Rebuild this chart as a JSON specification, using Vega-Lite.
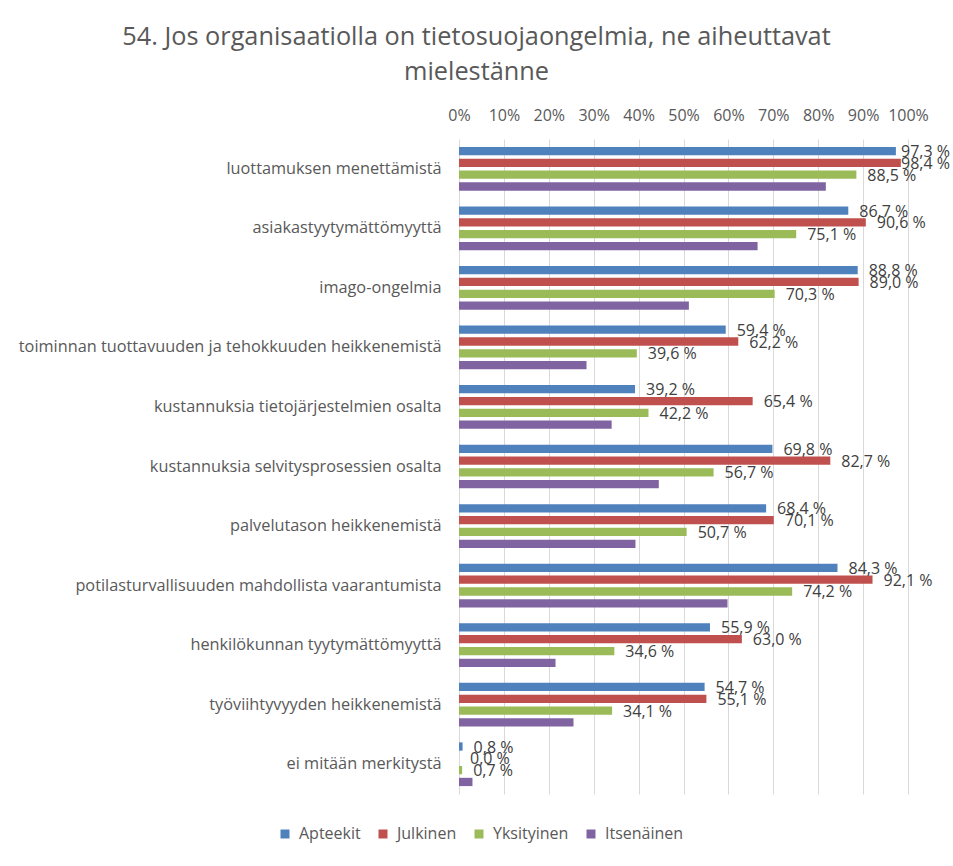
{
  "$schema": "https://vega.github.io/schema/vega-lite/v6.json",
  "width": 449,
  "height": 655,
  "autosize": {"type": "none"},
  "padding": {"left": 459, "top": 139, "right": 45, "bottom": 72},
  "background": "white",
  "title": {
    "text": ["54. Jos organisaatiolla on tietosuojaongelmia, ne aiheuttavat", "mielestänne"],
    "anchor": "middle",
    "frame": "group",
    "dx": -207,
    "offset": 22,
    "fontSize": 25.3,
    "font": "Open Sans",
    "fontWeight": "normal",
    "color": "#595959",
    "lineHeight": 35
  },
  "config": {"view": {"stroke": null}},
  "data": {
    "values": [
      {"k": "luottamuksen menettämistä", "s": "Apteekit", "v": 97.3},
      {"k": "luottamuksen menettämistä", "s": "Julkinen", "v": 98.4},
      {"k": "luottamuksen menettämistä", "s": "Yksityinen", "v": 88.5},
      {"k": "luottamuksen menettämistä", "s": "Itsenäinen", "v": 81.7},
      {"k": "asiakastyytymättömyyttä", "s": "Apteekit", "v": 86.7},
      {"k": "asiakastyytymättömyyttä", "s": "Julkinen", "v": 90.6},
      {"k": "asiakastyytymättömyyttä", "s": "Yksityinen", "v": 75.1},
      {"k": "asiakastyytymättömyyttä", "s": "Itsenäinen", "v": 66.5},
      {"k": "imago-ongelmia", "s": "Apteekit", "v": 88.8},
      {"k": "imago-ongelmia", "s": "Julkinen", "v": 89.0},
      {"k": "imago-ongelmia", "s": "Yksityinen", "v": 70.3},
      {"k": "imago-ongelmia", "s": "Itsenäinen", "v": 51.2},
      {"k": "toiminnan tuottavuuden ja tehokkuuden heikkenemistä", "s": "Apteekit", "v": 59.4},
      {"k": "toiminnan tuottavuuden ja tehokkuuden heikkenemistä", "s": "Julkinen", "v": 62.2},
      {"k": "toiminnan tuottavuuden ja tehokkuuden heikkenemistä", "s": "Yksityinen", "v": 39.6},
      {"k": "toiminnan tuottavuuden ja tehokkuuden heikkenemistä", "s": "Itsenäinen", "v": 28.4},
      {"k": "kustannuksia tietojärjestelmien osalta", "s": "Apteekit", "v": 39.2},
      {"k": "kustannuksia tietojärjestelmien osalta", "s": "Julkinen", "v": 65.4},
      {"k": "kustannuksia tietojärjestelmien osalta", "s": "Yksityinen", "v": 42.2},
      {"k": "kustannuksia tietojärjestelmien osalta", "s": "Itsenäinen", "v": 34.0},
      {"k": "kustannuksia selvitysprosessien osalta", "s": "Apteekit", "v": 69.8},
      {"k": "kustannuksia selvitysprosessien osalta", "s": "Julkinen", "v": 82.7},
      {"k": "kustannuksia selvitysprosessien osalta", "s": "Yksityinen", "v": 56.7},
      {"k": "kustannuksia selvitysprosessien osalta", "s": "Itsenäinen", "v": 44.5},
      {"k": "palvelutason heikkenemistä", "s": "Apteekit", "v": 68.4},
      {"k": "palvelutason heikkenemistä", "s": "Julkinen", "v": 70.1},
      {"k": "palvelutason heikkenemistä", "s": "Yksityinen", "v": 50.7},
      {"k": "palvelutason heikkenemistä", "s": "Itsenäinen", "v": 39.3},
      {"k": "potilasturvallisuuden mahdollista vaarantumista", "s": "Apteekit", "v": 84.3},
      {"k": "potilasturvallisuuden mahdollista vaarantumista", "s": "Julkinen", "v": 92.1},
      {"k": "potilasturvallisuuden mahdollista vaarantumista", "s": "Yksityinen", "v": 74.2},
      {"k": "potilasturvallisuuden mahdollista vaarantumista", "s": "Itsenäinen", "v": 59.8},
      {"k": "henkilökunnan tyytymättömyyttä", "s": "Apteekit", "v": 55.9},
      {"k": "henkilökunnan tyytymättömyyttä", "s": "Julkinen", "v": 63.0},
      {"k": "henkilökunnan tyytymättömyyttä", "s": "Yksityinen", "v": 34.6},
      {"k": "henkilökunnan tyytymättömyyttä", "s": "Itsenäinen", "v": 21.5},
      {"k": "työviihtyvyyden heikkenemistä", "s": "Apteekit", "v": 54.7},
      {"k": "työviihtyvyyden heikkenemistä", "s": "Julkinen", "v": 55.1},
      {"k": "työviihtyvyyden heikkenemistä", "s": "Yksityinen", "v": 34.1},
      {"k": "työviihtyvyyden heikkenemistä", "s": "Itsenäinen", "v": 25.5},
      {"k": "ei mitään merkitystä", "s": "Apteekit", "v": 0.8},
      {"k": "ei mitään merkitystä", "s": "Julkinen", "v": 0.0},
      {"k": "ei mitään merkitystä", "s": "Yksityinen", "v": 0.7},
      {"k": "ei mitään merkitystä", "s": "Itsenäinen", "v": 3.0}
    ]
  },
  "encoding": {
    "y": {
      "field": "k",
      "type": "nominal",
      "sort": null,
      "scale": {"paddingInner": 0, "paddingOuter": 0},
      "axis": {
        "title": null,
        "domain": false,
        "ticks": false,
        "grid": false,
        "labelFont": "Open Sans",
        "labelFontSize": 16.3,
        "labelColor": "#595959",
        "labelPadding": 18,
        "labelLimit": 500
      }
    },
    "yOffset": {
      "field": "s",
      "type": "nominal",
      "sort": ["Apteekit", "Julkinen", "Yksityinen", "Itsenäinen"],
      "scale": {"paddingInner": 0.3, "paddingOuter": 0.67}
    },
    "x": {
      "field": "v",
      "type": "quantitative",
      "scale": {"domain": [0, 100]},
      "axis": {
        "orient": "top",
        "title": null,
        "values": [0, 10, 20, 30, 40, 50, 60, 70, 80, 90, 100],
        "labelExpr": "datum.value + '%'",
        "domain": false,
        "ticks": false,
        "grid": true,
        "gridColor": "#D9D9D9",
        "gridWidth": 1,
        "labelFont": "Open Sans",
        "labelFontSize": 16,
        "labelColor": "#595959",
        "labelPadding": 16,
        "labelFlush": false
      }
    }
  },
  "layer": [
    {
      "mark": {"type": "bar"},
      "encoding": {
        "color": {
          "field": "s",
          "type": "nominal",
          "scale": {
            "domain": ["Apteekit", "Julkinen", "Yksityinen", "Itsenäinen"],
            "range": ["#4F81BD", "#C0504D", "#9BBB59", "#8064A2"]
          },
          "legend": {
            "orient": "none",
            "legendX": -182,
            "legendY": 687,
            "direction": "horizontal",
            "title": null,
            "symbolType": "square",
            "symbolSize": 81,
            "symbolStrokeWidth": 0,
            "labelFont": "Open Sans",
            "labelFontSize": 16,
            "labelColor": "#595959",
            "labelOffset": 6,
            "columnPadding": 14
          }
        }
      }
    },
    {
      "transform": [
        {"filter": "datum.s != 'Itsenäinen' && datum.v <= 95"},
        {"calculate": "replace(format(datum.v, '.1f'), '.', ',') + ' %'", "as": "lab"}
      ],
      "mark": {
        "type": "text",
        "align": "left",
        "baseline": "middle",
        "dx": 11,
        "dy": 1,
        "font": "Open Sans",
        "fontSize": 16,
        "color": "#404040"
      },
      "encoding": {
        "text": {"field": "lab", "type": "nominal"}
      }
    },
    {
      "transform": [
        {"filter": "datum.s != 'Itsenäinen' && datum.v > 95"},
        {"calculate": "replace(format(datum.v, '.1f'), '.', ',') + ' %'", "as": "lab"}
      ],
      "mark": {
        "type": "text",
        "align": "right",
        "baseline": "middle",
        "dx": 42,
        "dy": 1,
        "font": "Open Sans",
        "fontSize": 16,
        "color": "#404040"
      },
      "encoding": {
        "x": {"datum": 100, "type": "quantitative"},
        "text": {"field": "lab", "type": "nominal"}
      }
    }
  ]
}
